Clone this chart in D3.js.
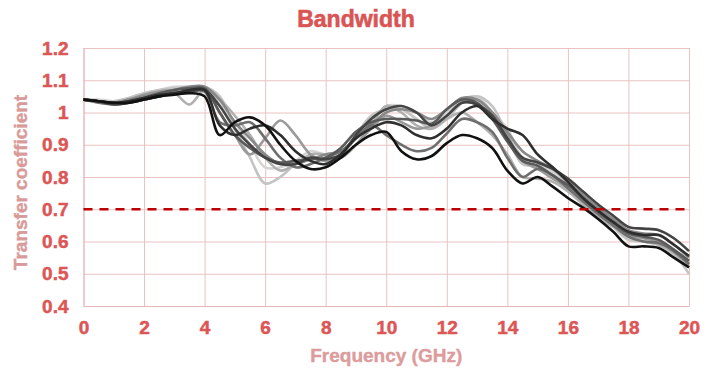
<!DOCTYPE html>
<html>
<head>
<meta charset="utf-8">
<script src="https://cdn.jsdelivr.net/npm/d3@7"></script>
<style>
  body { margin: 0; background: #fff; }
  text { font-family: "Liberation Sans", Arial, sans-serif; font-weight: bold; }
</style>
</head>
<body>
<script>
var margin = {top: 48, right: 23, bottom: 75, left: 83.5},
    width = 712,
    height = 380;

// frequency axis: 0 .. 20 GHz every 0.5
var freqs = d3.range(0, 20.01, 0.5);
var xTicks = [0, 2, 4, 6, 8, 10, 12, 14, 16, 18, 20];
var yTicks = [0.4, 0.5, 0.6, 0.7, 0.8, 0.9, 1, 1.1, 1.2];
var threshold = 0.7;

var s1 = [1.04,1.035,1.03,1.03,1.04,1.05,1.055,1.06,1.05,0.93,0.97,0.985,0.96,0.9,0.85,0.825,0.83,0.86,0.9,0.93,0.94,0.88,0.855,0.865,0.905,0.93,0.92,0.89,0.82,0.78,0.8,0.77,0.735,0.705,0.67,0.63,0.585,0.585,0.58,0.55,0.52];
var s2 = [1.04,1.035,1.03,1.035,1.045,1.055,1.06,1.07,1.07,0.96,0.93,0.95,0.96,0.93,0.88,0.85,0.84,0.87,0.92,0.95,0.97,0.96,0.93,0.92,0.95,1.0,1.02,0.98,0.95,0.93,0.87,0.83,0.785,0.735,0.695,0.66,0.63,0.62,0.62,0.59,0.555];
var s3 = [1.04,1.035,1.025,1.03,1.04,1.05,1.06,1.065,1.07,1.02,0.95,0.9,0.86,0.84,0.84,0.86,0.855,0.87,0.93,0.98,1.01,1.02,1.0,0.96,0.99,1.03,1.025,0.99,0.92,0.86,0.845,0.825,0.795,0.755,0.715,0.68,0.645,0.64,0.635,0.61,0.57];
var s4 = [1.04,1.035,1.03,1.035,1.045,1.06,1.07,1.075,1.075,1.0,0.93,0.89,0.86,0.845,0.85,0.855,0.86,0.89,0.94,0.97,0.98,0.98,0.975,0.965,1.01,1.04,1.03,0.98,0.91,0.85,0.835,0.805,0.775,0.735,0.695,0.66,0.625,0.615,0.605,0.575,0.54];
var s5 = [1.04,1.03,1.025,1.03,1.04,1.05,1.06,1.065,1.065,0.97,0.96,0.97,0.92,0.86,0.83,0.84,0.86,0.88,0.92,0.96,0.93,0.9,0.88,0.89,0.935,0.98,0.97,0.94,0.86,0.8,0.825,0.805,0.765,0.725,0.685,0.65,0.615,0.6,0.595,0.57,0.53];
var s6 = [1.04,1.035,1.03,1.04,1.05,1.06,1.07,1.08,1.08,1.04,0.97,0.92,0.87,0.84,0.84,0.855,0.87,0.88,0.92,0.96,1.0,1.01,1.0,0.98,1.01,1.045,1.04,1.0,0.94,0.88,0.85,0.825,0.785,0.745,0.705,0.67,0.635,0.625,0.62,0.59,0.55];
var s7 = [1.04,1.035,1.03,1.04,1.055,1.065,1.07,1.075,1.07,1.0,0.93,0.87,0.92,0.975,0.93,0.87,0.85,0.86,0.9,0.95,0.99,0.97,0.95,0.96,0.99,1.03,1.04,1.0,0.93,0.85,0.825,0.795,0.765,0.725,0.685,0.655,0.62,0.61,0.6,0.57,0.53];
var s8 = [1.04,1.035,1.03,1.04,1.055,1.065,1.06,1.025,1.07,1.04,0.99,0.93,0.86,0.82,0.84,0.87,0.87,0.86,0.9,0.96,1.02,1.0,0.96,0.95,0.98,1.0,0.97,0.93,0.87,0.8,0.795,0.785,0.755,0.715,0.675,0.645,0.615,0.6,0.59,0.565,0.52];
var s9 = [1.04,1.035,1.035,1.045,1.06,1.07,1.075,1.08,1.08,1.05,0.95,0.86,0.78,0.8,0.84,0.86,0.85,0.87,0.93,0.99,1.01,1.01,0.98,0.95,0.98,1.03,1.05,1.02,0.93,0.84,0.835,0.805,0.765,0.725,0.685,0.645,0.605,0.6,0.59,0.56,0.5];
var s10 = [1.04,1.04,1.035,1.045,1.06,1.07,1.08,1.08,1.075,1.03,0.97,0.9,0.83,0.83,0.85,0.88,0.87,0.88,0.92,0.97,1.02,1.02,1.0,0.97,1.0,1.04,1.05,1.0,0.95,0.86,0.845,0.815,0.775,0.735,0.695,0.655,0.62,0.61,0.6,0.575,0.525];

var series = [s10, s9, s8, s7, s6, s5, s4, s3, s2, s1];
var colors = ["#d4d4d4", "#c4c4c4", "#b0b0b0", "#9a9a9a", "#888888", "#6e6e6e", "#5a5a5a", "#444444", "#2e2e2e", "#111111"];

var plotW = width - margin.left - margin.right,
    plotH = height - margin.top - margin.bottom;

var svg = d3.select("body").append("svg")
    .attr("width", width)
    .attr("height", height);

var g = svg.append("g")
    .attr("transform", "translate(" + margin.left + "," + margin.top + ")");

var xScale = d3.scaleLinear().domain([0, 20]).range([0, plotW]);
var yScale = d3.scaleLinear().domain([0.4, 1.2]).range([plotH + 1, 0]);

// grid
g.append("g")
    .attr("class", "grid")
    .call(d3.axisLeft(yScale).tickValues(yTicks).tickSize(-plotW).tickFormat(""))
    .call(function(a) { a.select(".domain").remove(); })
    .selectAll("line").attr("stroke", "#e9c2c2");

g.append("g")
    .attr("class", "grid")
    .attr("transform", "translate(0," + (plotH + 1) + ")")
    .call(d3.axisBottom(xScale).tickValues(xTicks).tickSize(-plotH - 1).tickFormat(""))
    .call(function(a) { a.select(".domain").remove(); })
    .selectAll("line").attr("stroke", "#e9c2c2");

// axis labels
var xAxis = g.append("g")
    .attr("transform", "translate(0," + (plotH + 1) + ")")
    .call(d3.axisBottom(xScale).tickValues(xTicks).tickSize(0).tickPadding(15));
xAxis.select(".domain").attr("stroke", "#e3b8b8");
xAxis.selectAll("text").attr("font-size", 19).attr("fill", "#dc5656")
    .attr("stroke", "#dc5656").attr("stroke-width", 0.5)
    .style("font-family", "Liberation Sans, Arial, sans-serif").style("font-weight", "bold");

var yAxis = g.append("g")
    .call(d3.axisLeft(yScale).tickValues(yTicks).tickSize(0).tickPadding(15)
      .tickFormat(function(d) { return d3.format("")(+d.toFixed(1)); }));
yAxis.select(".domain").attr("stroke", "#e3b8b8");
yAxis.selectAll("text").attr("font-size", 19).attr("fill", "#dc5656")
    .attr("stroke", "#dc5656").attr("stroke-width", 0.5)
    .style("font-family", "Liberation Sans, Arial, sans-serif").style("font-weight", "bold");

// lines
var line = d3.line()
    .x(function(d, i) { return xScale(freqs[i]); })
    .y(function(d) { return yScale(d); })
    .curve(d3.curveCatmullRom.alpha(0.5));

g.selectAll(".series")
    .data(series)
    .enter()
    .append("path")
    .attr("class", "series")
    .attr("d", line)
    .attr("fill", "none")
    .attr("stroke", function(d, i) { return colors[i]; })
    .attr("stroke-width", 2.6)
    .attr("stroke-linejoin", "round");

// 0.7 threshold
g.append("line")
    .attr("x1", 0)
    .attr("x2", plotW)
    .attr("y1", yScale(threshold))
    .attr("y2", yScale(threshold))
    .attr("stroke", "#c00000")
    .attr("stroke-width", 2.6)
    .attr("stroke-dasharray", "9,7");

// titles
svg.append("text")
    .attr("x", 356)
    .attr("y", 27)
    .attr("text-anchor", "middle")
    .attr("font-size", 23)
    .attr("fill", "#d95454")
    .attr("stroke", "#d95454")
    .attr("stroke-width", 0.6)
    .text("Bandwidth");

svg.append("text")
    .attr("x", margin.left + plotW / 2)
    .attr("y", 362)
    .attr("text-anchor", "middle")
    .attr("font-size", 19)
    .attr("fill", "#dc9c9c")
    .attr("stroke", "#dc9c9c")
    .attr("stroke-width", 0.4)
    .text("Frequency (GHz)");

svg.append("text")
    .attr("transform", "translate(27," + (margin.top + plotH / 2 + 6) + ") rotate(-90)")
    .attr("text-anchor", "middle")
    .attr("font-size", 19)
    .attr("fill", "#d99a9a")
    .attr("stroke", "#d99a9a")
    .attr("stroke-width", 0.4)
    .text("Transfer coefficient");
</script>
</body>
</html>
